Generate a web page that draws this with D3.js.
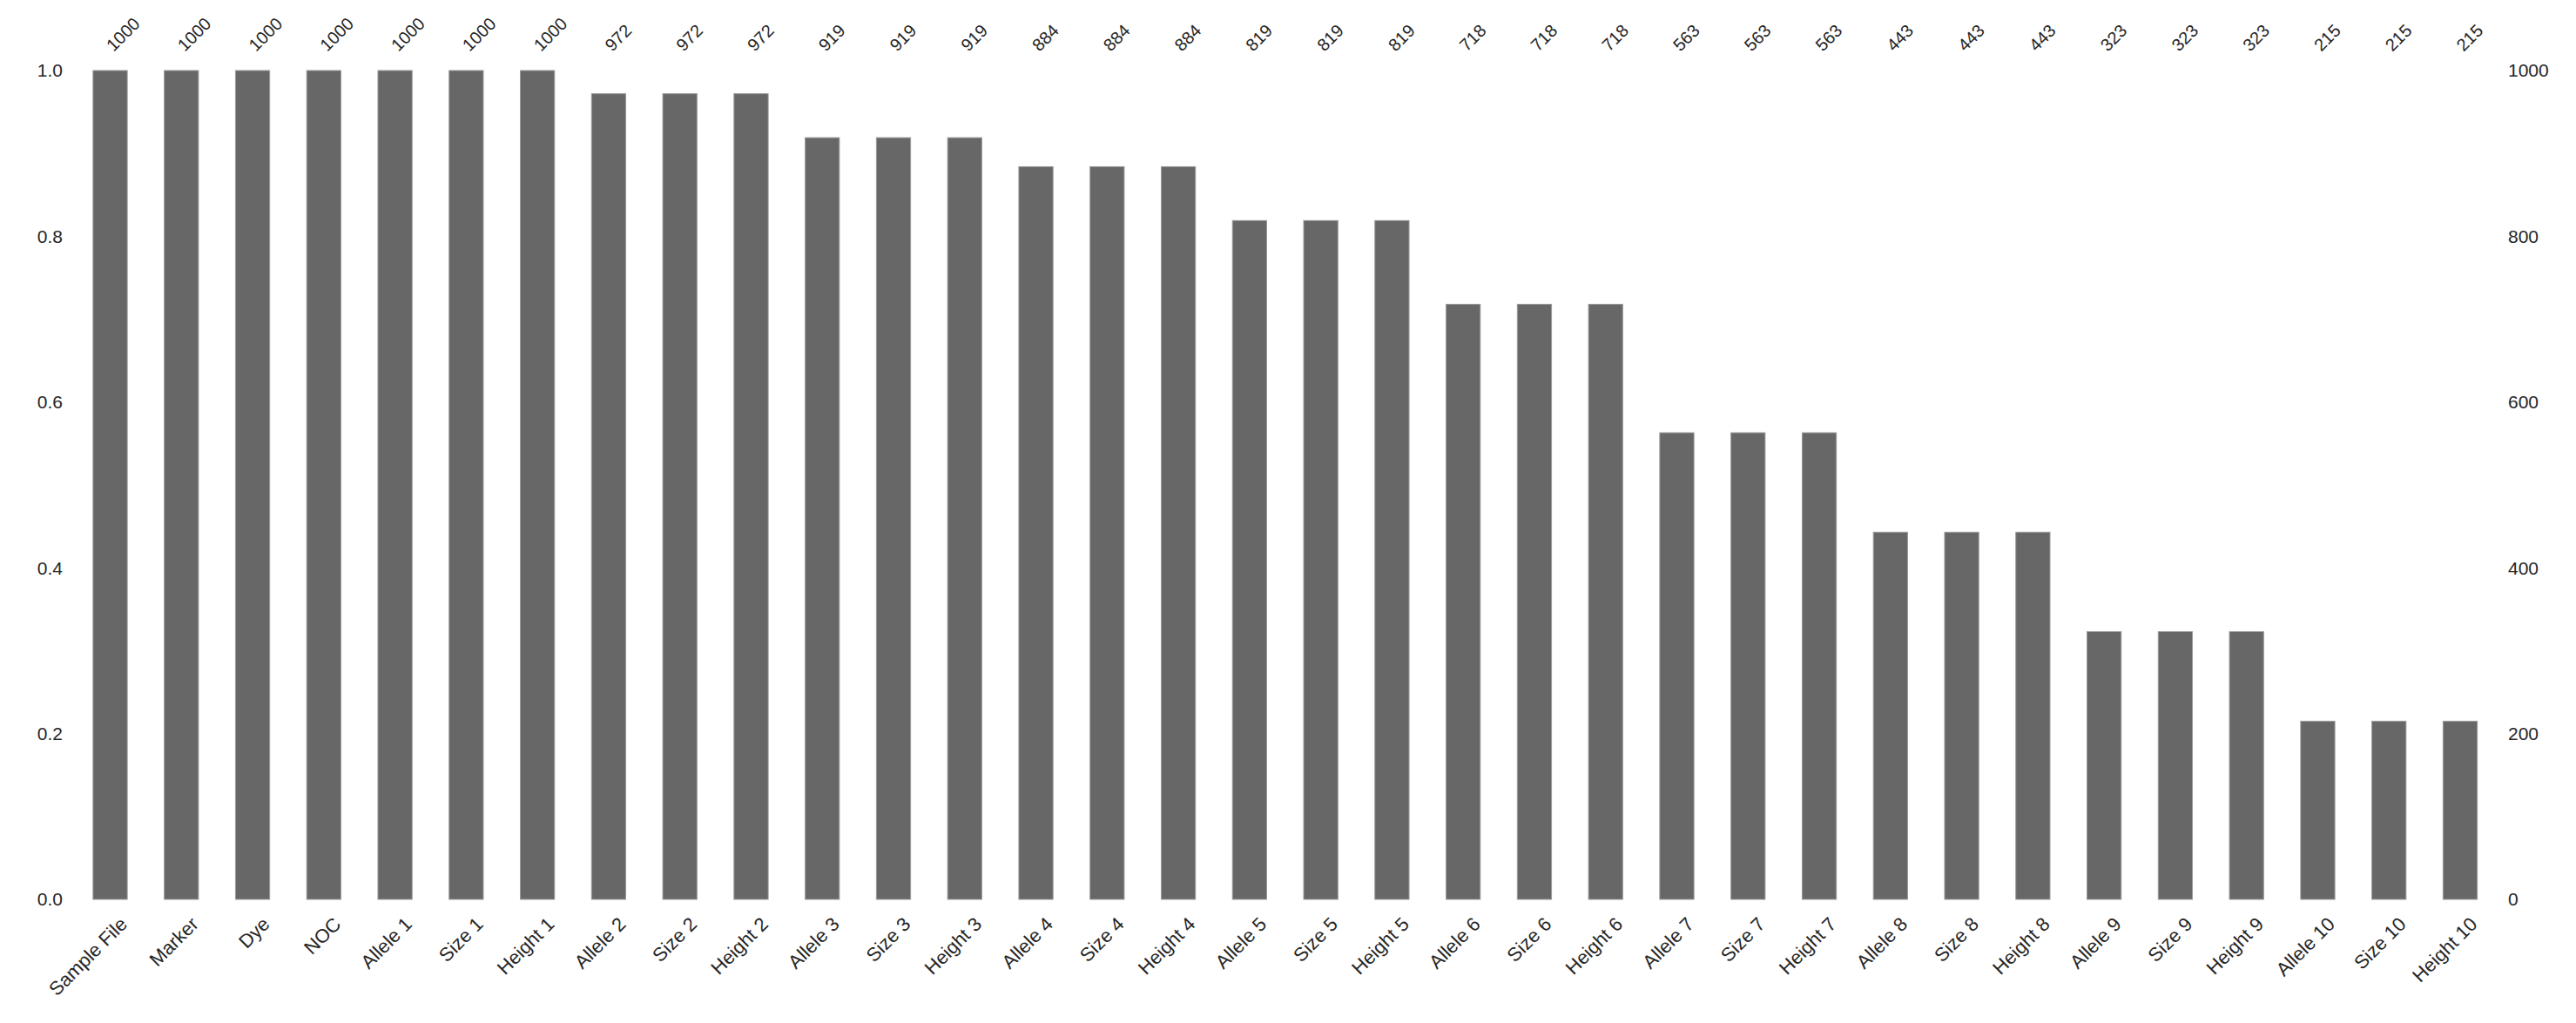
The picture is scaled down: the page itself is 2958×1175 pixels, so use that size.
<!DOCTYPE html>
<html>
<head>
<meta charset="utf-8">
<script src="https://cdn.jsdelivr.net/npm/d3@7"></script>
<style>
  body { margin: 0; background: #fff; }
  text { font-family: "Liberation Sans", Arial, sans-serif; fill: #262626; }
</style>
</head>
<body>
<svg id="chart" width="2958" height="1175"></svg>
<script>
const columns = ["Sample File","Marker","Dye","NOC","Allele 1","Size 1","Height 1",
  "Allele 2","Size 2","Height 2","Allele 3","Size 3","Height 3","Allele 4","Size 4","Height 4",
  "Allele 5","Size 5","Height 5","Allele 6","Size 6","Height 6","Allele 7","Size 7","Height 7",
  "Allele 8","Size 8","Height 8","Allele 9","Size 9","Height 9","Allele 10","Size 10","Height 10"];
const counts = [1000,1000,1000,1000,1000,1000,1000,972,972,972,919,919,919,884,884,884,
  819,819,819,718,718,718,563,563,563,443,443,443,323,323,323,215,215,215];
const total = 1000;
const leftTicks = [0, 0.2, 0.4, 0.6, 0.8, 1.0];
const rightTicks = [0, 200, 400, 600, 800, 1000];

const svg = d3.select("#chart");
const plotTop = 81, plotBottom = 1033;
const x = d3.scalePoint().domain(columns).range([126.5, 2825]);
const step = x.step();
const bw = step * 0.48;
const y = d3.scaleLinear().domain([0, 1]).range([plotBottom, plotTop]);
const yr = d3.scaleLinear().domain([0, total]).range([plotBottom, plotTop]);

// bars
svg.append("g").selectAll("rect")
  .data(columns)
  .join("rect")
  .attr("x", d => x(d) - bw / 2)
  .attr("width", bw)
  .attr("y", (d, i) => y(counts[i] / total))
  .attr("height", (d, i) => plotBottom - y(counts[i] / total))
  .attr("fill", "#676767")
  .attr("stroke", "#9a9a9a")
  .attr("stroke-width", 1);

// left axis
svg.append("g").selectAll("text")
  .data(leftTicks)
  .join("text")
  .attr("x", 72)
  .attr("y", d => y(d))
  .attr("dy", "0.35em")
  .attr("text-anchor", "end")
  .style("font-size", "21px")
  .text(d => d.toFixed(1));

// right axis
svg.append("g").selectAll("text")
  .data(rightTicks)
  .join("text")
  .attr("x", 2880)
  .attr("y", d => yr(d))
  .attr("dy", "0.35em")
  .attr("text-anchor", "start")
  .style("font-size", "21px")
  .text(d => d);

// counts on top
svg.append("g").selectAll("text")
  .data(columns)
  .join("text")
  .attr("transform", d => `translate(${x(d) + 4},60) rotate(-45)`)
  .style("font-size", "20px")
  .text((d, i) => counts[i]);

// column labels
svg.append("g").selectAll("text")
  .data(columns)
  .join("text")
  .attr("transform", d => `translate(${x(d) + 10},1052) rotate(-45)`)
  .attr("text-anchor", "end")
  .attr("dy", "0.7em")
  .style("font-size", "22px")
  .text(d => d);
</script>
</body>
</html>
